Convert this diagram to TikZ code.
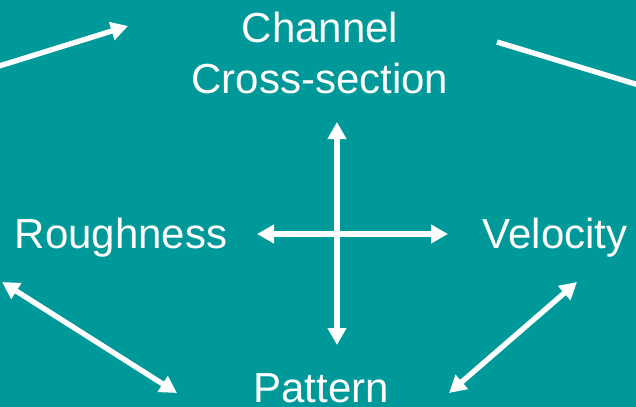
\documentclass[tikz,border=0pt]{standalone}
\usepackage{fontspec}
\setmainfont{Liberation Sans}
\usetikzlibrary{arrows.meta}
\definecolor{bgteal}{HTML}{009999}

\begin{document}
\begin{tikzpicture}[x=0.75pt, y=-0.75pt, >={Triangle[length=12.75pt,width=13.5pt]},
  wordnode/.style={text=white, inner sep=0pt, anchor=base, font=\fontsize{31.5}{38.25}\selectfont},
  flow/.style={white, line width=4pt}]

% --- Background ---
\fill[bgteal] (0,0) rectangle (636,407);
\clip (0,0) rectangle (636,407);

% --- Factors ---
\node[wordnode, align=center] (channel) at (320,93) {Channel\\Cross-section};
\node[wordnode] (rough) at (121,248) {Roughness};
\node[wordnode] (velo) at (555,248) {Velocity};
\node[wordnode] (pattern) at (321,402) {Pattern};

% --- Central cross ---
\coordinate (ctop) at (337,122);
\coordinate (cbot) at (337,345);
\coordinate (cleft) at (257,234);
\coordinate (cright) at (448,234);
\draw[flow, <->] (cbot) -- (ctop);
\draw[flow, <->] (cleft) -- (cright);

% --- Outer links ---
\coordinate (tlfrom) at (-4,67);
\coordinate (tlto) at (128,26);
\draw[flow, ->] (tlfrom) -- (tlto);
\coordinate (trfrom) at (497,42);
\coordinate (trto) at (642,86);
\draw[flow] (trfrom) -- (trto);
\coordinate (blup) at (2,282);
\coordinate (bldown) at (177,393);
\draw[flow, <->] (blup) -- (bldown);
\coordinate (brup) at (577,282);
\coordinate (brdown) at (449,393);
\draw[flow, <->] (brup) -- (brdown);

\end{tikzpicture}
\end{document}
